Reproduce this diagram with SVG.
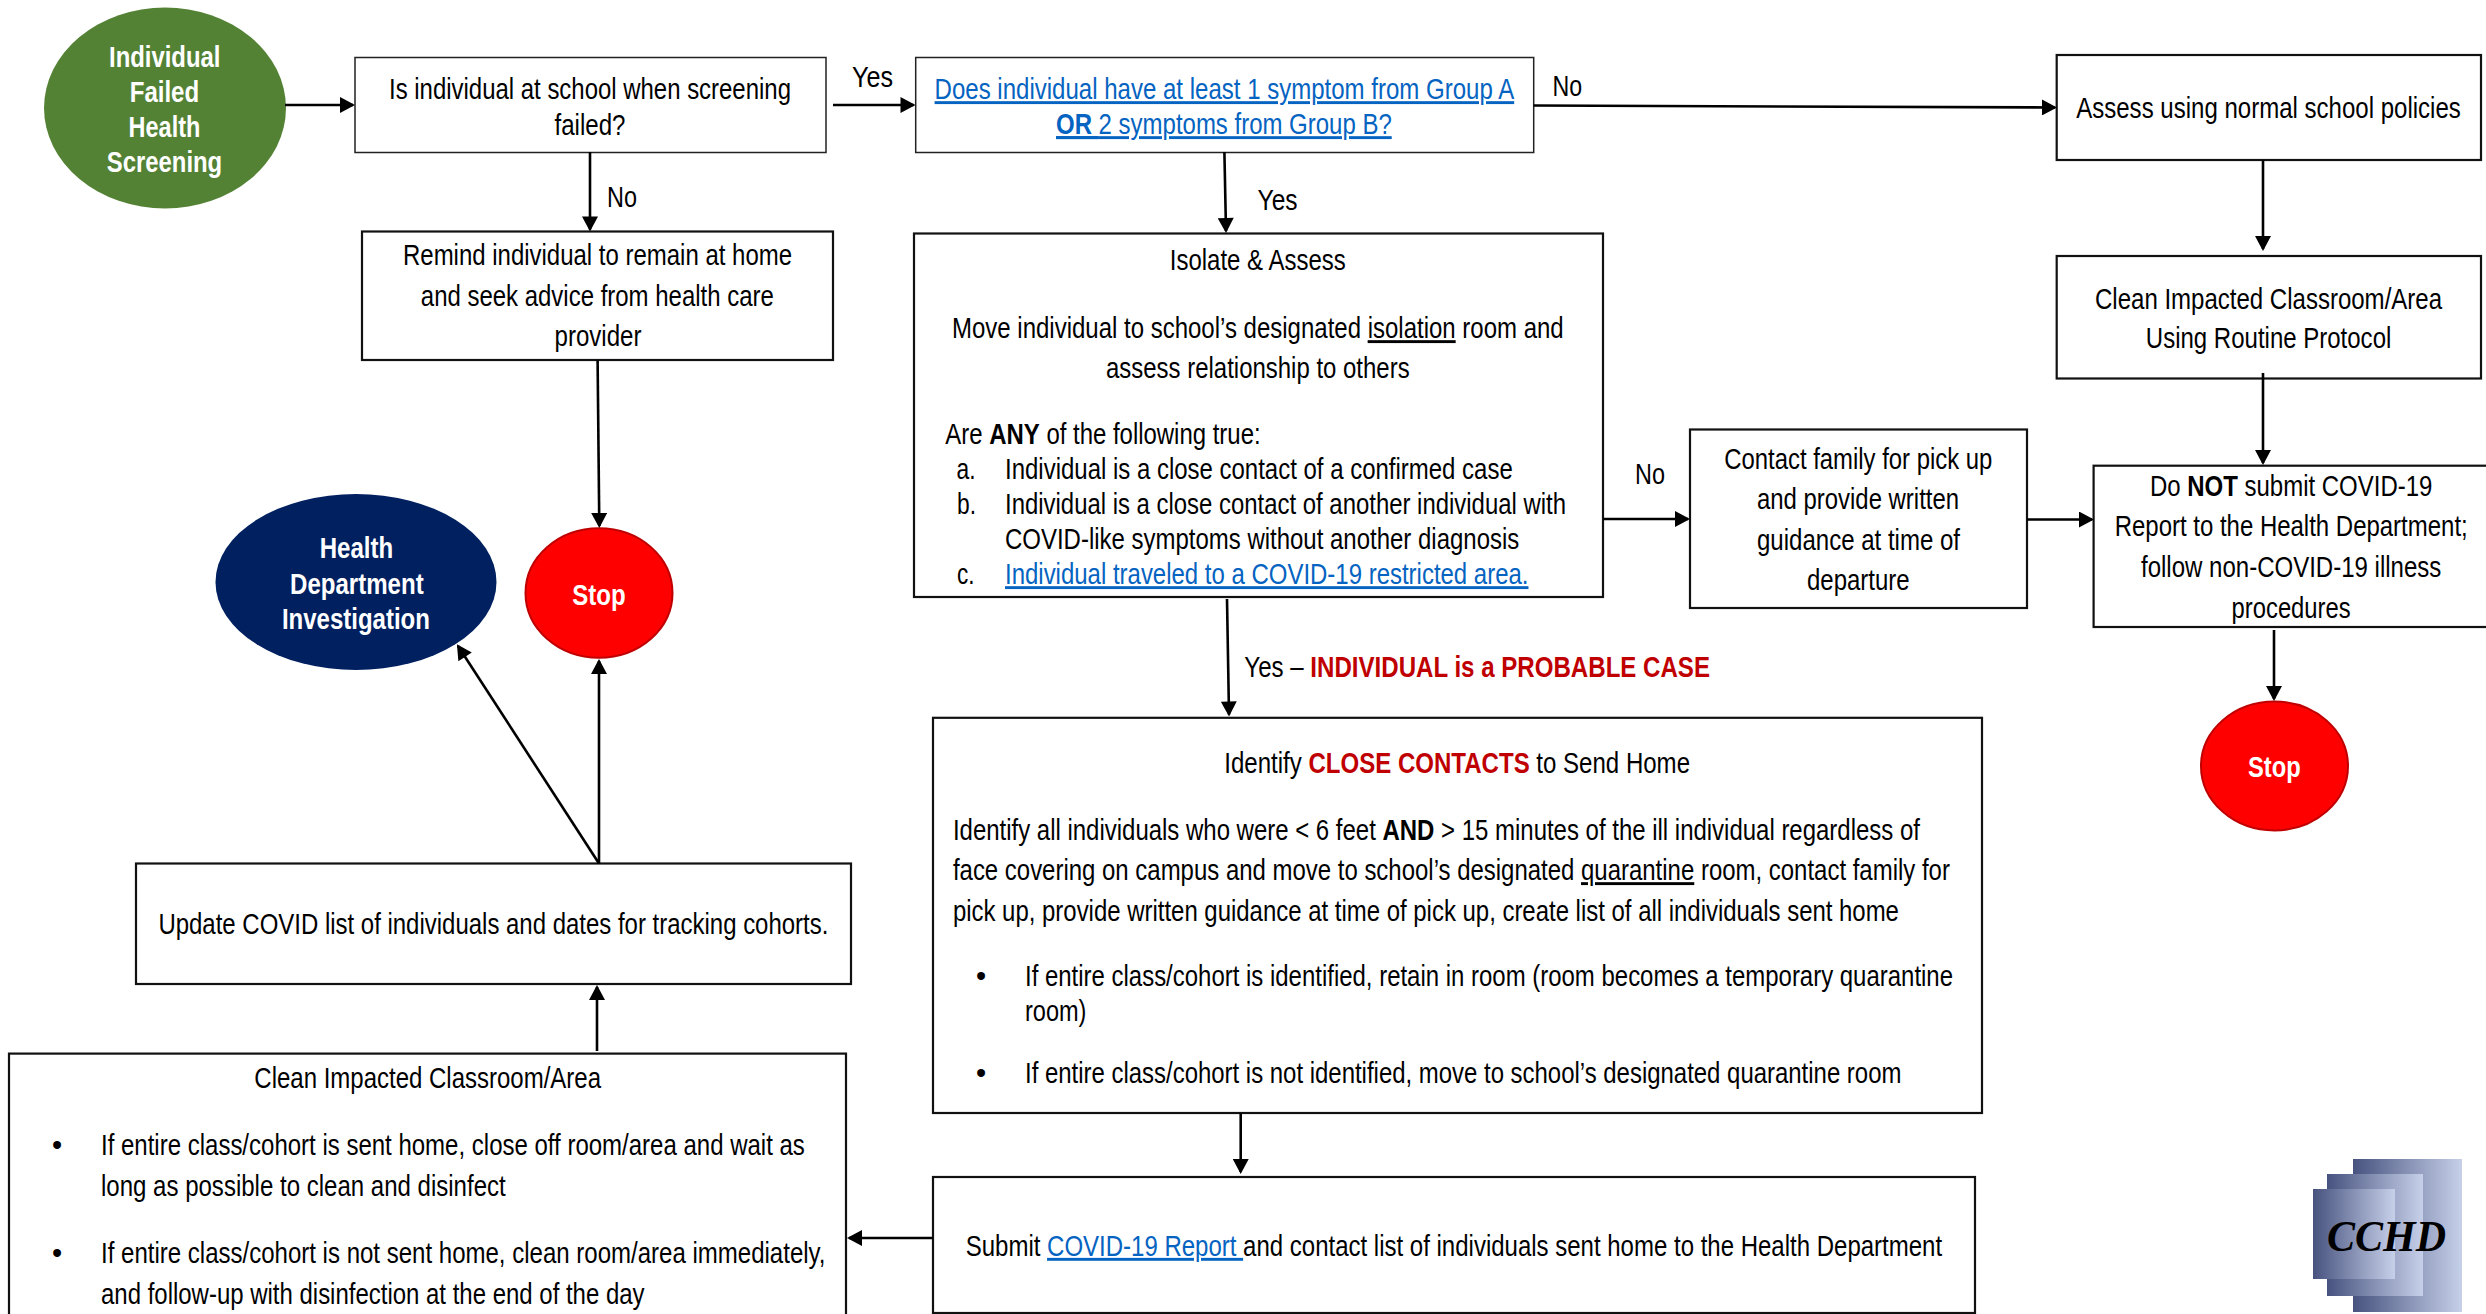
<svg xmlns="http://www.w3.org/2000/svg" width="2486" height="1314" viewBox="0 0 2486 1314">
<style>
text{font-family:"Liberation Sans",Arial,sans-serif;font-size:29px;fill:#000}
.w{fill:#fff;font-weight:bold}
.box{fill:#fff;stroke:#111;stroke-width:2.2}
.thin{stroke-width:1.5;stroke:#222}
.stop{fill:#f00;stroke:#c00000;stroke-width:2}
.b{font-weight:bold}
.r{font-weight:bold;fill:#c00000}
.l{fill:#0563c1;text-decoration:underline}
.u{text-decoration:underline}
.c{fill:none;stroke:#000;stroke-width:2.6;marker-end:url(#ah)}
</style>
<defs>
<marker id="ah" markerUnits="userSpaceOnUse" markerWidth="16" markerHeight="16" viewBox="0 0 15 16" refX="13" refY="8" orient="auto"><path d="M0 0L15 8L0 16Z" fill="#000"/></marker>
<linearGradient id="lg"><stop offset="0" stop-color="#47527f"/><stop offset="1" stop-color="#c6d0e9"/></linearGradient>
</defs>
<rect width="2486" height="1314" fill="#fff"/>

<g id="start">
<ellipse cx="165" cy="108" rx="121" ry="100.5" fill="#548235"/>
<text class="w" transform="translate(109 67) scale(.83 1)" textLength="134.3" lengthAdjust="spacingAndGlyphs">Individual</text>
<text class="w" transform="translate(129.7 102) scale(.83 1)" textLength="83.7" lengthAdjust="spacingAndGlyphs">Failed</text>
<text class="w" transform="translate(128.6 137) scale(.83 1)" textLength="86.4" lengthAdjust="spacingAndGlyphs">Health</text>
<text class="w" transform="translate(106.8 172) scale(.83 1)" textLength="139" lengthAdjust="spacingAndGlyphs">Screening</text>
</g>

<g id="at-school">
<rect class="box thin" x="355" y="57.5" width="471" height="95"/>
<text transform="translate(389 99) scale(.83 1)" textLength="484.3" lengthAdjust="spacingAndGlyphs">Is individual at school when screening</text>
<text transform="translate(554.5 134.5) scale(.83 1)" textLength="85.5" lengthAdjust="spacingAndGlyphs">failed?</text>
</g>

<g id="remind">
<rect class="box" x="362" y="231.5" width="471" height="128.5"/>
<text transform="translate(403 265) scale(.83 1)" textLength="468.7" lengthAdjust="spacingAndGlyphs">Remind individual to remain at home</text>
<text transform="translate(420.8 306) scale(.83 1)" textLength="425.3" lengthAdjust="spacingAndGlyphs">and seek advice from health care</text>
<text transform="translate(554.5 346) scale(.83 1)" textLength="104.8" lengthAdjust="spacingAndGlyphs">provider</text>
</g>

<g id="stop-left">
<ellipse class="stop" cx="599" cy="593" rx="73.5" ry="64.7"/>
<text class="w" transform="translate(572.3 605) scale(.83 1)" textLength="64.3" lengthAdjust="spacingAndGlyphs">Stop</text>
</g>

<g id="hd">
<ellipse cx="356" cy="582" rx="140.5" ry="88" fill="#002060"/>
<text class="w" transform="translate(319.7 557.5) scale(.83 1)" textLength="88.6" lengthAdjust="spacingAndGlyphs">Health</text>
<text class="w" transform="translate(290 593.5) scale(.83 1)" textLength="161.1" lengthAdjust="spacingAndGlyphs">Department</text>
<text class="w" transform="translate(281.9 629) scale(.83 1)" textLength="178.3" lengthAdjust="spacingAndGlyphs">Investigation</text>
</g>

<g id="symptoms">
<rect class="box thin" x="915.7" y="57.5" width="618" height="95"/>
<text transform="translate(934.6 99) scale(.83 1)" textLength="698.3" lengthAdjust="spacingAndGlyphs" class="l">Does individual have at least 1 symptom from Group A</text>
<text transform="translate(1056 134) scale(.83 1)" textLength="404.5" lengthAdjust="spacingAndGlyphs" class="l"><tspan class="l b">OR </tspan>2 symptoms from Group B?</text>
</g>

<g id="isolate">
<rect class="box" x="914" y="233.5" width="689" height="363.5"/>
<text transform="translate(1169.8 270) scale(.83 1)" textLength="212" lengthAdjust="spacingAndGlyphs">Isolate &amp; Assess</text>
<text transform="translate(952 338) scale(.83 1)" textLength="737" lengthAdjust="spacingAndGlyphs">Move individual to school’s designated <tspan class="u">isolation</tspan> room and</text>
<text transform="translate(1106 378) scale(.83 1)" textLength="365.8" lengthAdjust="spacingAndGlyphs">assess relationship to others</text>
<text transform="translate(945.3 444) scale(.83 1)" textLength="379.9" lengthAdjust="spacingAndGlyphs">Are <tspan class="b">ANY</tspan> of the following true:</text>
<text transform="translate(956.5 479) scale(.83 1)" textLength="22.9" lengthAdjust="spacingAndGlyphs">a.</text>
<text transform="translate(1005 479) scale(.83 1)" textLength="611.7" lengthAdjust="spacingAndGlyphs">Individual is a close contact of a confirmed case</text>
<text transform="translate(957 514) scale(.83 1)" textLength="22.9" lengthAdjust="spacingAndGlyphs">b.</text>
<text transform="translate(1005 514) scale(.83 1)" textLength="675.9" lengthAdjust="spacingAndGlyphs">Individual is a close contact of another individual with</text>
<text transform="translate(1005 549) scale(.83 1)" textLength="619.6" lengthAdjust="spacingAndGlyphs">COVID-like symptoms without another diagnosis</text>
<text transform="translate(957 584) scale(.83 1)" textLength="21.1" lengthAdjust="spacingAndGlyphs">c.</text>
<text transform="translate(1005 584) scale(.83 1)" textLength="630.7" lengthAdjust="spacingAndGlyphs" class="l">Individual traveled to a COVID-19 restricted area.</text>
</g>

<g id="contact-family">
<rect class="box" x="1690" y="429.5" width="337" height="178.5"/>
<text transform="translate(1724.3 469) scale(.83 1)" textLength="322.9" lengthAdjust="spacingAndGlyphs">Contact family for pick up</text>
<text transform="translate(1757 509) scale(.83 1)" textLength="243.4" lengthAdjust="spacingAndGlyphs">and provide written</text>
<text transform="translate(1757 550) scale(.83 1)" textLength="244.6" lengthAdjust="spacingAndGlyphs">guidance at time of</text>
<text transform="translate(1807 590) scale(.83 1)" textLength="123.7" lengthAdjust="spacingAndGlyphs">departure</text>
</g>

<g id="assess-normal">
<rect class="box" x="2056.7" y="55" width="424.3" height="105"/>
<text transform="translate(2076.2 118) scale(.83 1)" textLength="463.4" lengthAdjust="spacingAndGlyphs">Assess using normal school policies</text>
</g>

<g id="clean-routine">
<rect class="box" x="2056.7" y="256" width="424.3" height="122.5"/>
<text transform="translate(2095 308.5) scale(.83 1)" textLength="418.1" lengthAdjust="spacingAndGlyphs">Clean Impacted Classroom/Area</text>
<text transform="translate(2145.8 348) scale(.83 1)" textLength="295.8" lengthAdjust="spacingAndGlyphs">Using Routine Protocol</text>
</g>

<g id="do-not">
<rect class="box" x="2093.6" y="465.7" width="400" height="161.3"/>
<text transform="translate(2150 495.5) scale(.83 1)" textLength="340.2" lengthAdjust="spacingAndGlyphs">Do <tspan class="b">NOT</tspan> submit COVID-19</text>
<text transform="translate(2114.7 536) scale(.83 1)" textLength="425.3" lengthAdjust="spacingAndGlyphs">Report to the Health Department;</text>
<text transform="translate(2141 577) scale(.83 1)" textLength="361.8" lengthAdjust="spacingAndGlyphs">follow non-COVID-19 illness</text>
<text transform="translate(2231.6 617.5) scale(.83 1)" textLength="143.4" lengthAdjust="spacingAndGlyphs">procedures</text>
</g>

<g id="stop-right">
<ellipse class="stop" cx="2274.5" cy="766" rx="73.5" ry="64.5"/>
<text class="w" transform="translate(2248 777) scale(.83 1)" textLength="63.5" lengthAdjust="spacingAndGlyphs">Stop</text>
</g>

<g id="close-contacts">
<rect class="box" x="933" y="717.8" width="1049" height="395.2"/>
<text transform="translate(1224.3 773) scale(.83 1)" textLength="561.1" lengthAdjust="spacingAndGlyphs">Identify <tspan class="r">CLOSE CONTACTS</tspan> to Send Home</text>
<text transform="translate(952.9 839.7) scale(.83 1)" textLength="1165.1" lengthAdjust="spacingAndGlyphs">Identify all individuals who were &lt; 6 feet <tspan class="b">AND</tspan> &gt; 15 minutes of the ill individual regardless of</text>
<text transform="translate(952.9 880) scale(.83 1)" textLength="1201.2" lengthAdjust="spacingAndGlyphs">face covering on campus and move to school’s designated <tspan class="u">quarantine</tspan> room, contact family for</text>
<text transform="translate(952.9 921) scale(.83 1)" textLength="1139.8" lengthAdjust="spacingAndGlyphs">pick up, provide written guidance at time of pick up, create list of all individuals sent home</text>
<text x="976" y="986">•</text>
<text transform="translate(1025 986) scale(.83 1)" textLength="1118.1" lengthAdjust="spacingAndGlyphs">If entire class/cohort is identified, retain in room (room becomes a temporary quarantine</text>
<text transform="translate(1025 1020.6) scale(.83 1)" textLength="74" lengthAdjust="spacingAndGlyphs">room)</text>
<text x="976" y="1083">•</text>
<text transform="translate(1025 1083) scale(.83 1)" textLength="1055.9" lengthAdjust="spacingAndGlyphs">If entire class/cohort is not identified, move to school’s designated quarantine room</text>
</g>

<g id="submit">
<rect class="box" x="933" y="1177" width="1042" height="136"/>
<text transform="translate(965.7 1255.7) scale(.83 1)" textLength="1176.4" lengthAdjust="spacingAndGlyphs">Submit <tspan class="l">COVID-19 Report </tspan>and contact list of individuals sent home to the Health Department</text>
</g>

<g id="update-list">
<rect class="box" x="136" y="863.5" width="715" height="120.5"/>
<text transform="translate(158.4 934.4) scale(.83 1)" textLength="807.2" lengthAdjust="spacingAndGlyphs">Update COVID list of individuals and dates for tracking cohorts.</text>
</g>

<g id="clean-area">
<rect class="box" x="9" y="1053.6" width="837" height="300"/>
<text transform="translate(254.3 1088) scale(.83 1)" textLength="417.7" lengthAdjust="spacingAndGlyphs">Clean Impacted Classroom/Area</text>
<text x="52" y="1155">•</text>
<text transform="translate(101 1155) scale(.83 1)" textLength="848" lengthAdjust="spacingAndGlyphs">If entire class/cohort is sent home, close off room/area and wait as</text>
<text transform="translate(101 1196) scale(.83 1)" textLength="487.6" lengthAdjust="spacingAndGlyphs">long as possible to clean and disinfect</text>
<text x="52" y="1262.6">•</text>
<text transform="translate(101 1262.6) scale(.83 1)" textLength="872.9" lengthAdjust="spacingAndGlyphs">If entire class/cohort is not sent home, clean room/area immediately,</text>
<text transform="translate(101 1304) scale(.83 1)" textLength="654.9" lengthAdjust="spacingAndGlyphs">and follow-up with disinfection at the end of the day</text>
</g>

<g id="logo">
<rect x="2353" y="1159" width="109" height="153" fill="url(#lg)"/>
<rect x="2327" y="1174" width="96" height="122" fill="url(#lg)"/>
<rect x="2313" y="1189" width="82" height="90" fill="url(#lg)"/>
<text transform="translate(2327 1250.7) scale(.95 1)" textLength="125.3" lengthAdjust="spacingAndGlyphs" style="font-family:'Liberation Serif','Times New Roman',serif;font-size:44px;font-weight:bold;font-style:italic">CCHD</text>
</g>

<g id="connectors">
<path class="c" d="M285 105H353"/>
<path class="c" d="M833 105H913.5"/>
<path class="c" d="M590 152V229.5"/>
<path class="c" d="M597.6 360L599.3 526"/>
<path class="c" d="M1533.6 105.5L2055 107.5"/>
<path class="c" d="M1224.4 152L1226 231"/>
<path class="c" d="M1603 519H1688"/>
<path class="c" d="M1227 599L1229 714.5"/>
<path class="c" d="M2263 160V249"/>
<path class="c" d="M2263 373V463"/>
<path class="c" d="M2027 519.5H2092"/>
<path class="c" d="M2274 630V699"/>
<path class="c" d="M1240.7 1113V1172"/>
<path class="c" d="M933 1238H849"/>
<path class="c" d="M597 1051V987"/>
<path class="c" d="M599 863.5V661"/>
<path class="c" d="M599 863.5L458 646"/>
</g>

<g id="labels">
<text transform="translate(852 87) scale(.83 1)" textLength="49.4" lengthAdjust="spacingAndGlyphs">Yes</text>
<text transform="translate(607 207) scale(.83 1)" textLength="36.1" lengthAdjust="spacingAndGlyphs">No</text>
<text transform="translate(1552.4 96) scale(.83 1)" textLength="35.7" lengthAdjust="spacingAndGlyphs">No</text>
<text transform="translate(1257.6 210) scale(.83 1)" textLength="48.2" lengthAdjust="spacingAndGlyphs">Yes</text>
<text transform="translate(1635 484) scale(.83 1)" textLength="36.1" lengthAdjust="spacingAndGlyphs">No</text>
<text transform="translate(1244.3 677) scale(.83 1)" textLength="561.1" lengthAdjust="spacingAndGlyphs">Yes – <tspan class="r">INDIVIDUAL is a PROBABLE CASE</tspan></text>
</g>
</svg>
